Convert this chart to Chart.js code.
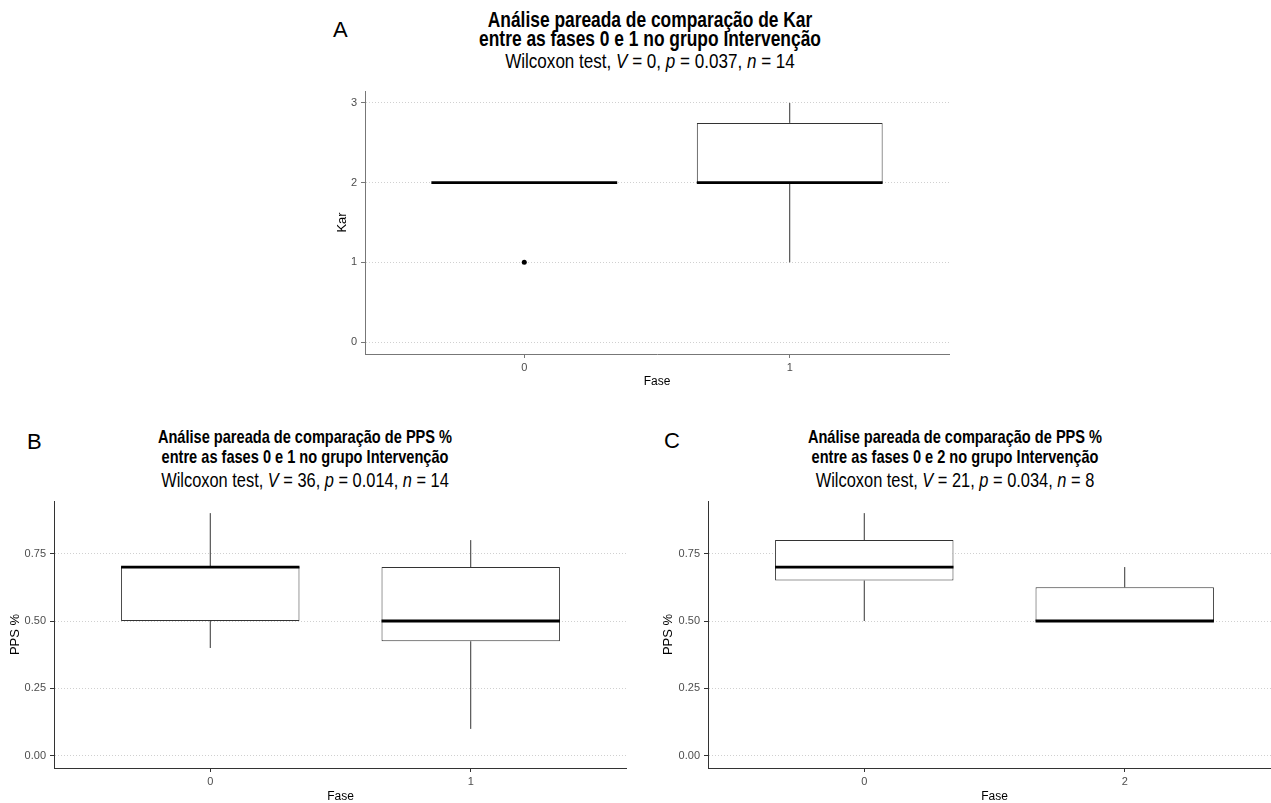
<!DOCTYPE html>
<html lang="pt">
<head>
<meta charset="utf-8">
<title>Análise pareada - Intervenção</title>
<script src="https://cdn.jsdelivr.net/npm/chart.js@4.4.1/dist/chart.umd.min.js"></script>
<style>
  html, body { margin: 0; padding: 0; background: #fff; }
  body { width: 1271px; height: 803px; overflow: hidden; position: relative;
         font-family: "Liberation Sans", Arial, sans-serif; color: #000; }
  canvas { position: absolute; }
  .letra { position: absolute; font-size: 22px; line-height: 22px; }
  .titulo { position: absolute; width: 600px; text-align: center; }
  /* o original usa uma fonte estreita: comprime a Liberation Sans */
  .titulo b, .titulo span { display: block; transform: scaleX(0.82); transform-origin: 50% 50%; }
  #tA b { font-size: 21.2px; line-height: 19px; }
  #tA span { font-size: 20.8px; line-height: 20px; margin-top: 3.5px; }
  .tBC b { font-size: 17.8px; line-height: 20px; }
  .tBC span { font-size: 20px; line-height: 20px; margin-top: 3px; }
</style>
</head>
<body>

<div class="letra" style="left:333px;top:19px">A</div>
<div class="titulo" id="tA" style="left:350px;top:9.5px">
  <b>Análise pareada de comparação de Kar</b>
  <b>entre as fases 0 e 1 no grupo Intervenção</b>
  <span>Wilcoxon test, <i>V</i> = 0, <i>p</i> = 0.037, <i>n</i> = 14</span>
</div>
<canvas id="graficoA" width="633" height="302" style="left:320px;top:87px"></canvas>

<div class="letra" style="left:27px;top:431px">B</div>
<div class="titulo tBC" style="left:5px;top:427px">
  <b>Análise pareada de comparação de PPS %</b>
  <b>entre as fases 0 e 1 no grupo Intervenção</b>
  <span>Wilcoxon test, <i>V</i> = 36, <i>p</i> = 0.014, <i>n</i> = 14</span>
</div>
<canvas id="graficoB" width="627" height="303" style="left:0px;top:501px"></canvas>

<div class="letra" style="left:664px;top:430px">C</div>
<div class="titulo tBC" style="left:655px;top:427px">
  <b>Análise pareada de comparação de PPS %</b>
  <b>entre as fases 0 e 2 no grupo Intervenção</b>
  <span>Wilcoxon test, <i>V</i> = 21, <i>p</i> = 0.034, <i>n</i> = 8</span>
</div>
<canvas id="graficoC" width="625" height="303" style="left:656px;top:501px"></canvas>

<script>
// A: Kar, fases 0 e 1
const karFases = ['0', '1'];
const karMin = [2, 1];
const karQ1 = [2, 2];
const karMed = [2, 2];
const karQ3 = [2, 2.75];
const karMax = [2, 3];
const karOutliers = [[1], []];
const karTicks = [0, 1, 2, 3];

// B: PPS %, fases 0 e 1
const ppsBFases = ['0', '1'];
const ppsBMin = [0.4, 0.1];
const ppsBQ1 = [0.5, 0.425];
const ppsBMed = [0.7, 0.5];
const ppsBQ3 = [0.7, 0.7];
const ppsBMax = [0.9, 0.8];

// C: PPS %, fases 0 e 2
const ppsCFases = ['0', '2'];
const ppsCMin = [0.5, 0.5];
const ppsCQ1 = [0.65, 0.5];
const ppsCMed = [0.7, 0.5];
const ppsCQ3 = [0.8, 0.625];
const ppsCMax = [0.9, 0.7];

const ppsTicks = [0, 0.25, 0.5, 0.75];

const fonte = "'Liberation Sans', Arial, sans-serif";

function boxplot(id, s) {
    const caixas = s.fases.map((f, i) => ({ x: i + 1, y: [s.q1[i], s.q3[i]] }));
    const pontos = [];
    (s.outliers || []).forEach((vals, i) => vals.forEach(v => pontos.push({ x: i + 1, y: v })));

    // bigodes e mediana, desenhados sobre as barras flutuantes
    const bigodes = {
        id: 'bigodes',
        afterDatasetsDraw(chart) {
            const y = chart.scales.y;
            const ctx = chart.ctx;
            ctx.save();
            chart.getDatasetMeta(0).data.forEach((bar, i) => {
                ctx.strokeStyle = '#333';
                ctx.lineWidth = 1;
                ctx.beginPath();
                ctx.moveTo(bar.x, y.getPixelForValue(s.q3[i]));
                ctx.lineTo(bar.x, y.getPixelForValue(s.max[i]));
                ctx.moveTo(bar.x, y.getPixelForValue(s.q1[i]));
                ctx.lineTo(bar.x, y.getPixelForValue(s.min[i]));
                ctx.stroke();

                const ym = y.getPixelForValue(s.med[i]);
                ctx.strokeStyle = '#000';
                ctx.lineWidth = 2.8;
                ctx.beginPath();
                ctx.moveTo(bar.x - bar.width / 2, ym);
                ctx.lineTo(bar.x + bar.width / 2, ym);
                ctx.stroke();
            });
            ctx.restore();
        }
    };

    return new Chart(document.getElementById(id), {
        type: 'bar',
        data: {
            datasets: [{
                type: 'bar',
                data: caixas,
                backgroundColor: '#fff',
                borderColor: '#333',
                borderWidth: 1,
                borderSkipped: false,
                barPercentage: s.larguraCaixa,
                categoryPercentage: 1
            }, {
                type: 'scatter',
                data: pontos,
                pointRadius: 2.5,
                pointBackgroundColor: '#000',
                pointBorderWidth: 0
            }]
        },
        options: {
            responsive: false,
            animation: false,
            layout: { padding: 0 },
            plugins: {
                legend: { display: false },
                tooltip: { enabled: false }
            },
            scales: {
                x: {
                    type: 'linear',
                    min: 0.4,
                    max: 2.6,
                    offset: false,
                    grid: { drawOnChartArea: false, offset: false, tickLength: 4, tickColor: s.eixo },
                    border: { color: s.eixo, width: 1 },
                    ticks: {
                        padding: 3,
                        color: '#4d4d4d',
                        font: { family: fonte, size: 11 },
                        callback: v => s.fases[v - 1]
                    },
                    afterBuildTicks: sc => { sc.ticks = s.fases.map((f, i) => ({ value: i + 1 })); },
                    title: {
                        display: true,
                        text: 'Fase',
                        color: '#000',
                        font: { family: fonte, size: 12 },
                        padding: 0
                    },
                    afterFit: sc => { sc.height = s.alturaX; sc.paddingLeft = 0; sc.paddingRight = 0; }
                },
                y: {
                    type: 'linear',
                    min: s.yMin,
                    max: s.yMax,
                    grid: { color: '#d0d0d0', lineWidth: 1, tickLength: 4, tickColor: s.eixo },
                    border: { color: s.eixo, width: 1, dash: [1, 2] },
                    ticks: {
                        padding: 4,
                        color: '#4d4d4d',
                        font: { family: fonte, size: 11 },
                        callback: v => v.toFixed(s.casas)
                    },
                    afterBuildTicks: sc => { sc.ticks = s.ticks.map(v => ({ value: v })); },
                    title: {
                        display: true,
                        text: s.titulo,
                        color: '#000',
                        font: { family: fonte, size: 13 },
                        padding: { top: s.tituloPad, bottom: 0 }
                    },
                    afterFit: sc => { sc.width = s.largura; sc.paddingTop = 0; sc.paddingBottom = 0; }
                }
            }
        },
        plugins: [bigodes]
    });
}

boxplot('graficoA', {
    fases: karFases, min: karMin, q1: karQ1, med: karMed, q3: karQ3, max: karMax,
    outliers: karOutliers, ticks: karTicks, casas: 0,
    yMin: -0.15, yMax: 3.15, titulo: 'Kar', largura: 45, tituloPad: 14.2,
    alturaX: 35, larguraCaixa: 0.7, eixo: '#777'
});

boxplot('graficoB', {
    fases: ppsBFases, min: ppsBMin, q1: ppsBQ1, med: ppsBMed, q3: ppsBQ3, max: ppsBMax,
    ticks: ppsTicks, casas: 2,
    yMin: -0.045, yMax: 0.945, titulo: 'PPS %', largura: 54, tituloPad: 7.2,
    alturaX: 36, larguraCaixa: 0.685, eixo: '#333'
});

boxplot('graficoC', {
    fases: ppsCFases, min: ppsCMin, q1: ppsCQ1, med: ppsCMed, q3: ppsCQ3, max: ppsCMax,
    ticks: ppsTicks, casas: 2,
    yMin: -0.045, yMax: 0.945, titulo: 'PPS %', largura: 52, tituloPad: 4.2,
    alturaX: 36, larguraCaixa: 0.685, eixo: '#333'
});
</script>
</body>
</html>
